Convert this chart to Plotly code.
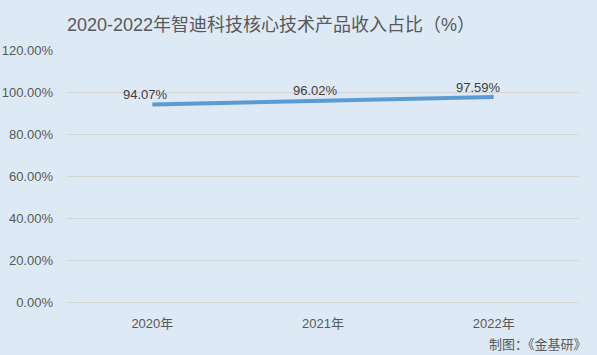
import plotly.graph_objects as go

years = ["2020年", "2021年", "2022年"]
share = [94.07, 96.02, 97.59]
label_text = ["94.07%", "96.02%", "97.59%"]
label_dx = [-7, -8, -15]

title = "2020-2022年智迪科技核心技术产品收入占比（%）"
source = "制图：《金基研》"

font_family = "Liberation Sans, 'Noto Sans CJK SC', sans-serif"
bg = "#dde9f5"

fig = go.Figure()
fig.add_trace(go.Scatter(
    x=years, y=share, mode="lines",
    line=dict(color="#5b9bd5", width=4),
    hoverinfo="skip", showlegend=False,
))

for x, y, t, dx in zip(years, share, label_text, label_dx):
    fig.add_annotation(x=x, y=y, text=t, showarrow=False,
                       xanchor="center", yanchor="middle",
                       xshift=dx, yshift=10,
                       font=dict(size=13, color="#404040", family=font_family))

fig.add_annotation(xref="paper", yref="paper", x=1.02, y=-0.167,
                   xanchor="right", yanchor="middle", text=source,
                   showarrow=False,
                   font=dict(size=13, color="#595959", family=font_family))

fig.update_layout(
    width=597, height=355,
    margin=dict(l=67, r=18, t=50, b=53),
    paper_bgcolor=bg, plot_bgcolor=bg,
    title=dict(text=title, x=67/597, xanchor="left", y=1 - 25/355, yanchor="middle",
               font=dict(size=18, color="#595959", family=font_family)),
    xaxis=dict(showgrid=False, showline=False, zeroline=False,
               range=[-0.5, 2.5], automargin=False,
               tickfont=dict(size=13, color="#595959", family=font_family),
               ticks="", ticklabelstandoff=12),
    yaxis=dict(range=[0, 120], dtick=20, tickformat=".2f", ticksuffix="%",
               showgrid=True, gridcolor="#d4d4d4", gridwidth=1,
               zeroline=True, zerolinecolor="#d4d4d4", zerolinewidth=1,
               showline=False, automargin=False,
               tickfont=dict(size=13, color="#595959", family=font_family),
               ticks="", ticklabelstandoff=13),
)

fig.write_html("out.html")
